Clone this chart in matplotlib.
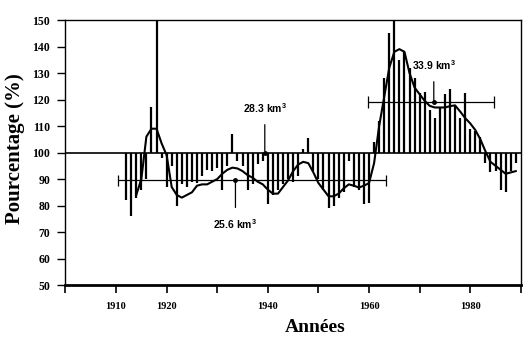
import matplotlib
matplotlib.use("Agg")
import matplotlib.pyplot as plt
import numpy as np

# yearly flow as % of the mean
years = np.arange(1912, 1990)
pct = [82, 76, 83, 86, 90, 117, 151, 98, 87, 95,
       80, 88, 87, 89, 88.5, 91, 93.5, 93, 94, 86,
       95, 107, 97, 95, 86, 88, 95.5, 97, 80.5, 84,
       86, 88, 90, 89, 91, 101.5, 105.5, 93, 90, 86,
       79, 80, 83, 85, 97, 87, 86, 80.5, 81, 104,
       112, 128, 145, 151, 135, 138, 132, 128, 122.5, 123,
       116, 113, 117, 122, 124, 118, 113, 122.5, 109, 108,
       106, 96, 92.5, 93, 86, 85, 93, 96]

# smoothed curve
curve_years = np.arange(1914, 1990)
curve = [84, 90, 106, 109, 109, 103.5, 99, 87, 84, 83,
         84, 85, 87.5, 88, 88, 89, 90, 92, 93.5, 94.3,
         94, 93, 91.5, 90.5, 89, 88, 86, 84.5, 84.5, 87,
         89.5, 93, 95.5, 96.5, 96, 92.5, 88.5, 86, 83.5, 83.5,
         84.5, 86.5, 88, 87.5, 86.8, 87.5, 88.5, 96, 110, 121,
         132, 138, 139, 138, 130, 124.5, 122, 119.5, 117.6, 117,
         117, 117, 117.5, 117.8, 115.5, 113, 111, 108.5, 105, 100.5,
         96.5, 95, 93.5, 92, 92.5, 93]

# period means
low_level = 89.5
low_span = (1910.3, 1963.4)
high_level = 119
high_span = (1959.8, 1984.7)

xticks = [1900, 1910, 1920, 1930, 1940, 1950, 1960, 1970, 1980, 1990]
xlabels = ["", "1910", "1920", "", "1940", "", "1960", "", "1980", ""]
yticks = [50, 60, 70, 80, 90, 100, 110, 120, 130, 140, 150]

serif = "Liberation Serif"
sans = "Liberation Sans"
plt.rcParams["mathtext.fontset"] = "custom"
plt.rcParams["mathtext.rm"] = "Liberation Sans:bold"
plt.rcParams["mathtext.it"] = "Liberation Sans:bold"
plt.rcParams["mathtext.bf"] = "Liberation Sans:bold"

fig = plt.figure(figsize=(5.32, 3.39), dpi=100)
ax = fig.add_axes([0.123, 0.159, 0.856, 0.782])

ax.vlines(years, 100, pct, color="black", lw=1.6)
ax.plot(curve_years, curve, color="black", lw=1.5)
ax.axhline(100, color="black", lw=1.2)

# mean lines with end caps
ax.hlines(low_level, low_span[0], low_span[1], color="black", lw=0.9)
ax.vlines(low_span, low_level - 2.2, low_level + 2.2, color="black", lw=0.9)
ax.hlines(high_level, high_span[0], high_span[1], color="black", lw=0.9)
ax.vlines(high_span, high_level - 2.2, high_level + 2.2, color="black", lw=0.9)

# labels for the means
for txt, x, y, ty in [("25.6 km$^3$", 1933.6, low_level, 73),
                      ("28.3 km$^3$", 1939.4, 100, 116.8),
                      ("33.9 km$^3$", 1972.8, high_level, 133)]:
    ax.plot([x], [y], "o", ms=2.5, color="black")
    ax.annotate(txt, xy=(x, y), xytext=(x, ty), ha="center", va="center",
                fontsize=7.5, fontweight="bold", family=sans,
                arrowprops=dict(arrowstyle="-", lw=0.9, color="black",
                                shrinkA=5, shrinkB=1))

ax.set_xlim(1900, 1990)
ax.set_ylim(50, 150)
ax.set_xticks(xticks)
ax.set_xticklabels(xlabels)
ax.set_yticks(yticks)
ax.tick_params(axis="x", direction="out", length=6, width=1.2, pad=6)
ax.tick_params(axis="y", direction="out", length=6, width=1.0, pad=5)
for lab in ax.get_xticklabels():
    lab.set_fontfamily(serif)
    lab.set_fontweight("bold")
    lab.set_fontsize(7.5)
for lab in ax.get_yticklabels():
    lab.set_fontfamily(serif)
    lab.set_fontweight("bold")
    lab.set_fontsize(8.5)

for s in ["left", "top", "right"]:
    ax.spines[s].set_linewidth(1.0)
ax.spines["bottom"].set_linewidth(2.0)

fig.text(0.029, 0.562, "Pourcentage (%)", rotation=90, ha="center", va="center",
         family=serif, fontweight="bold", fontsize=15)
fig.text(0.592, 0.035, "Années", ha="center", va="center",
         family=serif, fontweight="bold", fontsize=14)

fig.savefig("out.png", dpi=100)
